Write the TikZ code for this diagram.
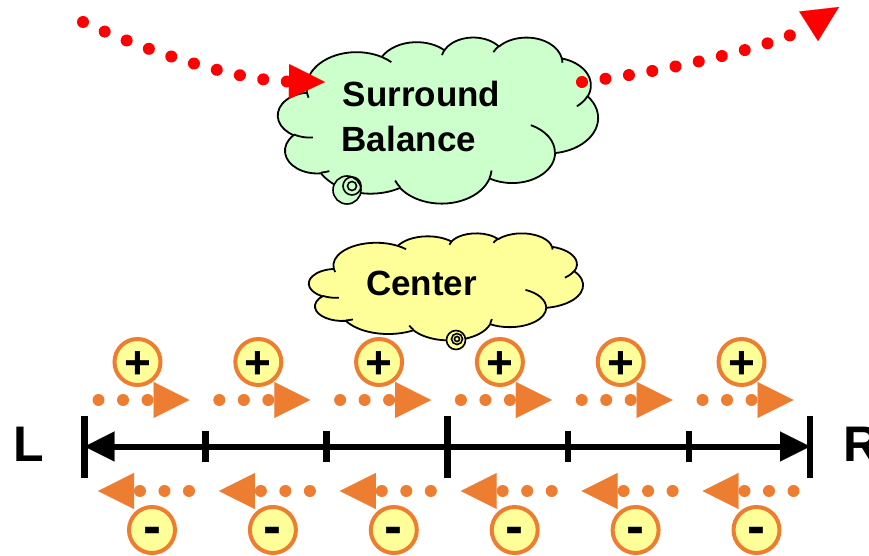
\documentclass[tikz,border=0pt]{standalone}
\usepackage{fontspec}
\setmainfont{Liberation Sans}
\usetikzlibrary{arrows.meta,calc}
\definecolor{cloudgreen}{HTML}{CCFFCC}
\definecolor{cloudyellow}{HTML}{FFFF99}
\definecolor{ballyellow}{HTML}{FFFF99}
\definecolor{orangeA}{HTML}{ED7D31}
\definecolor{redA}{HTML}{FF0000}
\newcommand\pptcloud[5]{%
  \begin{scope}[shift={(#1,#2)}, x=#3pt, y=-#4pt]
    \path[cloudline, fill=#5] (39.00,143.70)
      arc[start angle=-187.75, end angle=-59.64, x radius=67.53, y radius=91.90]
      arc[start angle=-152.02, end angle=-45.44, x radius=53.33, y radius=72.67]
      arc[start angle=-153.49, end angle=-37.33, x radius=43.65, y radius=59.45]
      arc[start angle=-139.69, end angle=-10.21, x radius=48.57, y radius=65.95]
      arc[start angle=-74.77, end angle=23.21, x radius=53.33, y radius=72.73]
      arc[start angle=-37.54, end angle=81.86, x radius=67.75, y radius=92.20]
      arc[start angle=0.46, end angle=121.97, x radius=57.85, y radius=78.67]
      arc[start angle=16.84, end angle=146.24, x radius=67.52, y radius=92.15]
      arc[start angle=58.98, end angle=150.20, x radius=77.20, y radius=105.43]
      arc[start angle=-276.69, end angle=-136.90, x radius=43.60, y radius=59.18]
      arc[start angle=-239.65, end angle=-95.89, x radius=43.45, y radius=59.45]
      -- cycle;
    \path[cloudline]
      (46.93,261.77) arc[start angle=85.55, end angle=120.35, x radius=43.45, y radius=59.45]
      (69.28,348.99) arc[start angle=68.23, end angle=83.31, x radius=43.60, y radius=59.18]
      (164.78,390.90) arc[start angle=146.24, end angle=158.47, x radius=67.52, y radius=92.15]
      (288.27,347.51) arc[start angle=4.74, end angle=16.84, x radius=67.52, y radius=92.15]
      (341.29,229.54) arc[start angle=-64.03, end angle=0.46, x radius=57.85, y radius=78.67]
      (417.98,153.54) arc[start angle=23.21, end angle=49.65, x radius=53.33, y radius=72.73]
      (383.24,54.26) arc[start angle=-10.21, end angle=0.82, x radius=48.57, y radius=65.95]
      (290.78,39.52) arc[start angle=-156.29, end angle=-139.69, x radius=48.57, y radius=65.95]
      (221.41,47.20) arc[start angle=-167.73, end angle=-153.49, x radius=43.65, y radius=59.45]
      (140.00,51.92) arc[start angle=-59.64, end angle=-45.73, x radius=67.53, y radius=91.90]
      (41.27,157.89) arc[start angle=163.19, end angle=172.25, x radius=67.53, y radius=91.90];
  \end{scope}}
\tikzset{
  cloudline/.style={draw=black, line width=1.8pt, line join=round},
  bubble/.style={circle, draw=black, line width=1.6pt, inner sep=0pt},
  bigtext/.style={font=\bfseries\fontsize{35}{42}\selectfont, inner sep=0pt, text=black},
  sidetext/.style={font=\bfseries\fontsize{50}{60}\selectfont, inner sep=0pt, text=black},
  plusball/.style={circle, draw=orangeA, line width=4pt, fill=ballyellow, minimum size=46pt, inner sep=0pt,
    font=\bfseries\fontsize{46}{46}\selectfont, text height=32pt, text depth=0pt},
  minusball/.style={circle, draw=orangeA, line width=4pt, fill=ballyellow, minimum size=46pt, inner sep=0pt,
    font=\bfseries\fontsize{54}{54}\selectfont, text height=28pt, text depth=0pt},
  odots/.style={draw=orangeA, line width=12pt, line cap=round, dash pattern=on 0.01pt off 24.5pt,
    -{Triangle[length=36pt, width=36pt, line width=0.1pt]}},
  rdots/.style={draw=redA, line width=12pt, line cap=round, dash pattern=on 0.01pt off 23.7pt,
    -{Triangle[length=36pt, width=35pt, line width=0.1pt]}},
  axisline/.style={draw=black, line width=6pt,
    {Triangle[length=30pt, width=30pt, line width=0.1pt]}-{Triangle[length=30pt, width=30pt, line width=0.1pt]}},
  tickline/.style={draw=black, line width=6.5pt},
}
\begin{document}
\begin{tikzpicture}[x=1pt, y=-1pt]
  \useasboundingbox (0,0) rectangle (869,556);
  \fill[white] (0,0) rectangle (869,556);

  % Surround balance cloud
  \pptcloud{278}{37}{0.74074}{0.38426}{cloudgreen}
  \node[bubble, fill=cloudgreen, minimum size=28pt] (sbA) at (347,190) {};
  \node[bubble, minimum size=18pt] (sbB) at (352,186) {};
  \node[bubble, minimum size=9pt] (sbC) at (352,186) {};
  \node[bigtext, anchor=base west] (sb1) at (342.5,107) {Surround};
  \node[bigtext, anchor=base west] (sb2) at (341.5,152) {Balance};

  % Center cloud
  \pptcloud{309}{233}{0.63426}{0.24769}{cloudyellow}
  \node[bubble, fill=cloudyellow, minimum size=19pt] (ccA) at (456,340) {};
  \node[bubble, minimum size=11pt] (ccB) at (457,339) {};
  \node[bubble, minimum size=5pt] (ccC) at (457,339) {};
  \node[bigtext, anchor=base west] (ctr) at (366,295) {Center};

  % red dotted arrows
  \coordinate (r1s) at (83,22);
  \coordinate (r1e) at (325,82);
  \coordinate (r2s) at (582,82);
  \coordinate (r2e) at (839,7);
  \draw[rdots] (r1s) .. controls (150,53) and (240,81) .. (r1e);
  \draw[rdots] (r2s) .. controls (662,72) and (776,47) .. (r2e);

  % axis
  \coordinate (axL) at (84.5,446.5);
  \coordinate (axR) at (810,446.5);
  \coordinate (axC) at (447.25,446.5);
  \draw[axisline] (axL) -- (axR);
  \draw[tickline] ([yshift=31pt]axL) -- ([yshift=-31pt]axL);
  \draw[tickline] ([yshift=31pt]axR) -- ([yshift=-31pt]axR);
  \draw[tickline] ([yshift=31pt]axC) -- ([yshift=-31pt]axC);
  \foreach \tx in {205.4,326.3,568,689}{
    \coordinate (tk) at (\tx,446.5);
    \draw[tickline] ([yshift=15.5pt]tk) -- ([yshift=-15.5pt]tk);
  }
  \node[sidetext, anchor=base west] (labL) at (13.3,461) {L};
  \node[sidetext, anchor=base west] (labR) at (843.3,461) {R};

  % plus / minus rows
  \foreach \i in {0,...,5}{
    \node[plusball] (p\i) at ({137.5+120.8*\i},362) {+};
    \draw[odots] ($(p\i)+(-39,38)$) -- ($(p\i)+(52,38)$);
    \node[minusball] (m\i) at ({152+120.9*\i},530) {-};
    \draw[odots] ($(m\i)+(37,-39)$) -- ($(m\i)+(-54,-39)$);
  }
\end{tikzpicture}
\end{document}
